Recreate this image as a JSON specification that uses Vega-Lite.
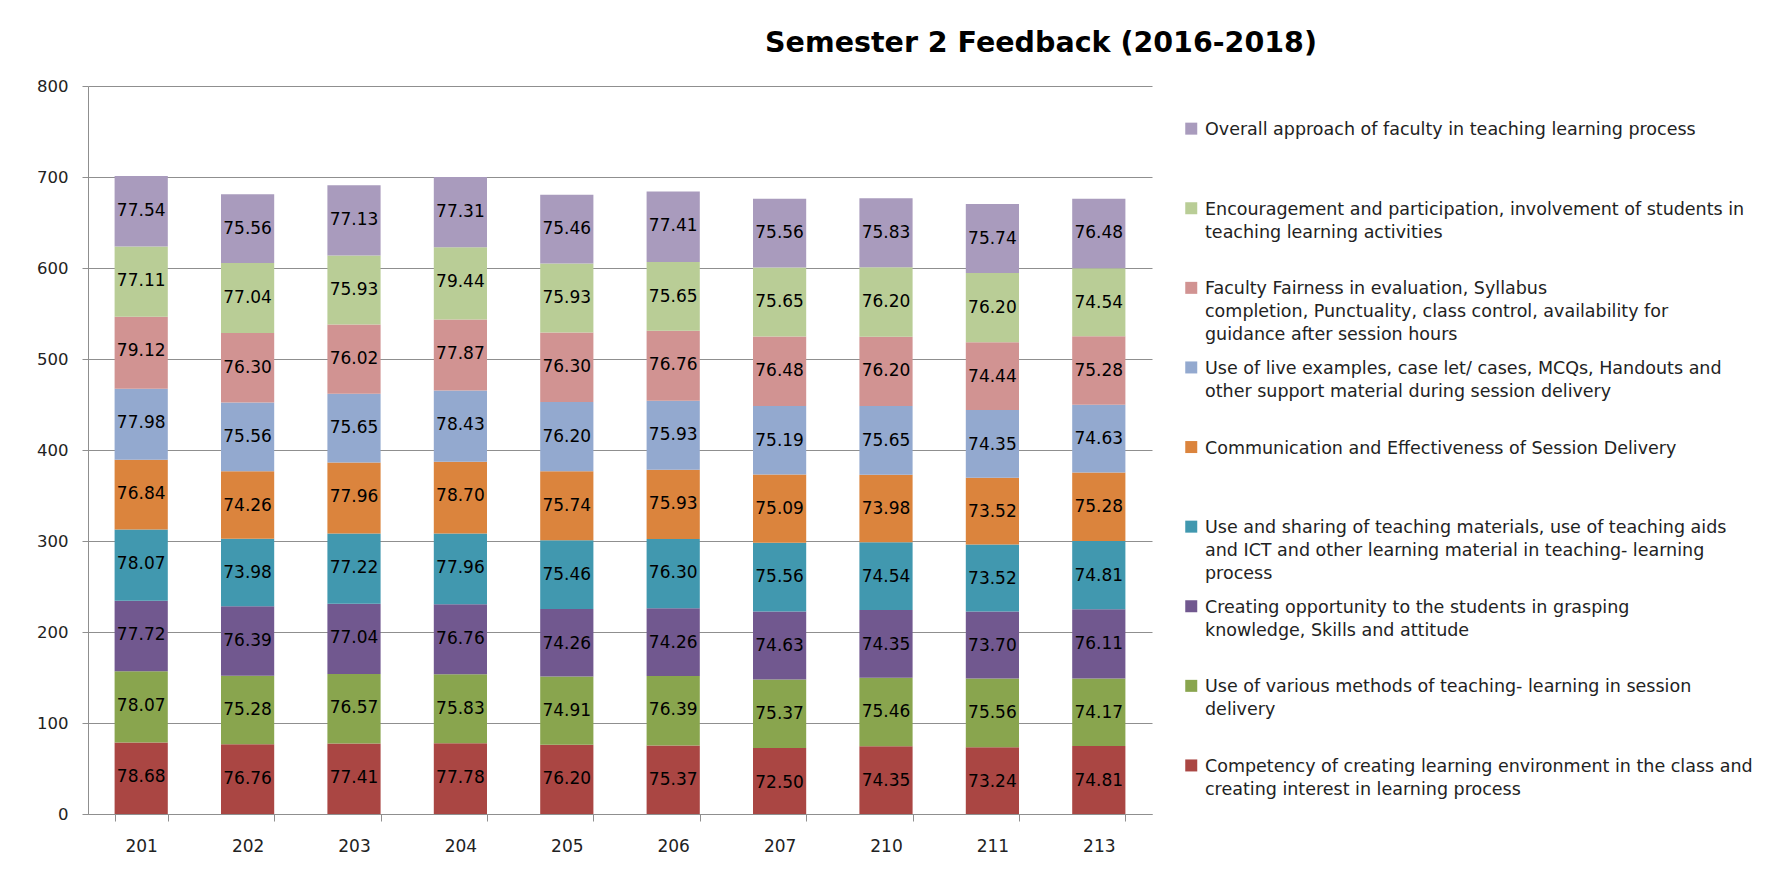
{
  "$schema": "https://vega.github.io/schema/vega-lite/v6.json",
  "width": 1064,
  "height": 728,
  "autosize": {"type": "none"},
  "padding": {"left": 88, "top": 86, "right": 619, "bottom": 58},
  "background": "white",
  "title": {
    "text": "Semester 2 Feedback (2016-2018)",
    "font": "DejaVu Sans",
    "fontSize": 28.5,
    "fontWeight": "bold",
    "color": "#000000",
    "anchor": "middle",
    "frame": "group",
    "dx": 421,
    "dy": 22,
    "offset": 20,
    "baseline": "alphabetic"
  },
  "datasets": {
    "series": [
      {"k": 1, "name": "Competency of creating learning environment in the class and|creating interest in learning process| "},
      {"k": 2, "name": "Use of various methods of teaching- learning in session|delivery| "},
      {"k": 3, "name": "Creating opportunity to the students in grasping|knowledge, Skills and attitude| "},
      {"k": 4, "name": "Use and sharing  of teaching materials, use of teaching aids|and ICT and other learning material in teaching- learning|process"},
      {"k": 5, "name": "Communication and Effectiveness of Session Delivery| | "},
      {"k": 6, "name": "Use of live examples, case let/ cases, MCQs, Handouts and|other support material during session delivery| "},
      {"k": 7, "name": "Faculty Fairness in evaluation, Syllabus|completion,  Punctuality, class control, availability for|guidance after session hours"},
      {"k": 8, "name": "Encouragement and participation, involvement of students in|teaching learning activities| "},
      {"k": 9, "name": "Overall approach of faculty in teaching learning process| | "}
    ],
    "scores": [
      {"g": "201", "k": 1, "v": 78.68}, {"g": "202", "k": 1, "v": 76.76}, {"g": "203", "k": 1, "v": 77.41}, {"g": "204", "k": 1, "v": 77.78}, {"g": "205", "k": 1, "v": 76.20},
      {"g": "206", "k": 1, "v": 75.37}, {"g": "207", "k": 1, "v": 72.50}, {"g": "210", "k": 1, "v": 74.35}, {"g": "211", "k": 1, "v": 73.24}, {"g": "213", "k": 1, "v": 74.81},
      {"g": "201", "k": 2, "v": 78.07}, {"g": "202", "k": 2, "v": 75.28}, {"g": "203", "k": 2, "v": 76.57}, {"g": "204", "k": 2, "v": 75.83}, {"g": "205", "k": 2, "v": 74.91},
      {"g": "206", "k": 2, "v": 76.39}, {"g": "207", "k": 2, "v": 75.37}, {"g": "210", "k": 2, "v": 75.46}, {"g": "211", "k": 2, "v": 75.56}, {"g": "213", "k": 2, "v": 74.17},
      {"g": "201", "k": 3, "v": 77.72}, {"g": "202", "k": 3, "v": 76.39}, {"g": "203", "k": 3, "v": 77.04}, {"g": "204", "k": 3, "v": 76.76}, {"g": "205", "k": 3, "v": 74.26},
      {"g": "206", "k": 3, "v": 74.26}, {"g": "207", "k": 3, "v": 74.63}, {"g": "210", "k": 3, "v": 74.35}, {"g": "211", "k": 3, "v": 73.70}, {"g": "213", "k": 3, "v": 76.11},
      {"g": "201", "k": 4, "v": 78.07}, {"g": "202", "k": 4, "v": 73.98}, {"g": "203", "k": 4, "v": 77.22}, {"g": "204", "k": 4, "v": 77.96}, {"g": "205", "k": 4, "v": 75.46},
      {"g": "206", "k": 4, "v": 76.30}, {"g": "207", "k": 4, "v": 75.56}, {"g": "210", "k": 4, "v": 74.54}, {"g": "211", "k": 4, "v": 73.52}, {"g": "213", "k": 4, "v": 74.81},
      {"g": "201", "k": 5, "v": 76.84}, {"g": "202", "k": 5, "v": 74.26}, {"g": "203", "k": 5, "v": 77.96}, {"g": "204", "k": 5, "v": 78.70}, {"g": "205", "k": 5, "v": 75.74},
      {"g": "206", "k": 5, "v": 75.93}, {"g": "207", "k": 5, "v": 75.09}, {"g": "210", "k": 5, "v": 73.98}, {"g": "211", "k": 5, "v": 73.52}, {"g": "213", "k": 5, "v": 75.28},
      {"g": "201", "k": 6, "v": 77.98}, {"g": "202", "k": 6, "v": 75.56}, {"g": "203", "k": 6, "v": 75.65}, {"g": "204", "k": 6, "v": 78.43}, {"g": "205", "k": 6, "v": 76.20},
      {"g": "206", "k": 6, "v": 75.93}, {"g": "207", "k": 6, "v": 75.19}, {"g": "210", "k": 6, "v": 75.65}, {"g": "211", "k": 6, "v": 74.35}, {"g": "213", "k": 6, "v": 74.63},
      {"g": "201", "k": 7, "v": 79.12}, {"g": "202", "k": 7, "v": 76.30}, {"g": "203", "k": 7, "v": 76.02}, {"g": "204", "k": 7, "v": 77.87}, {"g": "205", "k": 7, "v": 76.30},
      {"g": "206", "k": 7, "v": 76.76}, {"g": "207", "k": 7, "v": 76.48}, {"g": "210", "k": 7, "v": 76.20}, {"g": "211", "k": 7, "v": 74.44}, {"g": "213", "k": 7, "v": 75.28},
      {"g": "201", "k": 8, "v": 77.11}, {"g": "202", "k": 8, "v": 77.04}, {"g": "203", "k": 8, "v": 75.93}, {"g": "204", "k": 8, "v": 79.44}, {"g": "205", "k": 8, "v": 75.93},
      {"g": "206", "k": 8, "v": 75.65}, {"g": "207", "k": 8, "v": 75.65}, {"g": "210", "k": 8, "v": 76.20}, {"g": "211", "k": 8, "v": 76.20}, {"g": "213", "k": 8, "v": 74.54},
      {"g": "201", "k": 9, "v": 77.54}, {"g": "202", "k": 9, "v": 75.56}, {"g": "203", "k": 9, "v": 77.13}, {"g": "204", "k": 9, "v": 77.31}, {"g": "205", "k": 9, "v": 75.46},
      {"g": "206", "k": 9, "v": 77.41}, {"g": "207", "k": 9, "v": 75.56}, {"g": "210", "k": 9, "v": 75.83}, {"g": "211", "k": 9, "v": 75.74}, {"g": "213", "k": 9, "v": 76.48}
    ]
  },
  "data": {"name": "scores"},
  "transform": [
    {"lookup": "k", "from": {"data": {"name": "series"}, "key": "k", "fields": ["name"]}},
    {"stack": "v", "groupby": ["g"], "sort": [{"field": "k", "order": "ascending"}], "as": ["v0", "v1"]}
  ],
  "encoding": {
    "x": {
      "field": "g",
      "type": "ordinal",
      "scale": {"paddingInner": 0.5, "paddingOuter": 0.25},
      "axis": {
        "title": null,
        "labelAngle": 0,
        "labelFont": "DejaVu Sans",
        "labelFontSize": 17,
        "labelColor": "#222222",
        "labelPadding": 17,
        "labelBaseline": "top",
        "tickBand": "extent",
        "tickSize": 7,
        "tickColor": "#8f8f8f",
        "domainColor": "#8f8f8f"
      }
    }
  },
  "layer": [
    {
      "mark": {"type": "bar"},
      "encoding": {
        "y": {
          "field": "v0",
          "type": "quantitative",
          "scale": {"domain": [0, 800], "nice": false},
          "axis": {
            "title": null,
            "values": [0, 100, 200, 300, 400, 500, 600, 700, 800],
            "labelFont": "DejaVu Sans",
            "labelFontSize": 16.5,
            "labelColor": "#222222",
            "labelPadding": 14,
            "tickSize": 6,
            "tickColor": "#8f8f8f",
            "domainColor": "#8f8f8f",
            "grid": true,
            "gridColor": "#8f8f8f"
          }
        },
        "y2": {"field": "v1"},
        "color": {
          "field": "name",
          "type": "nominal",
          "scale": {
            "domain": [
              "Overall approach of faculty in teaching learning process| | ",
              "Encouragement and participation, involvement of students in|teaching learning activities| ",
              "Faculty Fairness in evaluation, Syllabus|completion,  Punctuality, class control, availability for|guidance after session hours",
              "Use of live examples, case let/ cases, MCQs, Handouts and|other support material during session delivery| ",
              "Communication and Effectiveness of Session Delivery| | ",
              "Use and sharing  of teaching materials, use of teaching aids|and ICT and other learning material in teaching- learning|process",
              "Creating opportunity to the students in grasping|knowledge, Skills and attitude| ",
              "Use of various methods of teaching- learning in session|delivery| ",
              "Competency of creating learning environment in the class and|creating interest in learning process| "
            ],
            "range": ["#A99BBD", "#B9CD96", "#D19392", "#93A9CF", "#DB843D", "#4198AF", "#71588F", "#89A54E", "#AA4643"]
          },
          "legend": {
            "title": null,
            "orient": "right",
            "offset": 3.5,
            "padding": 26.5,
            "labelExpr": "split(datum.label, '|')",
            "labelFont": "DejaVu Sans",
            "labelFontSize": 17.5,
            "labelColor": "#222222",
            "labelBaseline": "top",
            "labelLimit": 800,
            "labelOffset": 5,
            "symbolType": "M-1,0.233H1V2.233H-1Z",
            "symbolSize": 144,
            "symbolStrokeWidth": 0,
            "rowPadding": 6.6
          }
        }
      }
    },
    {
      "mark": {"type": "text", "dy": 34.6, "baseline": "middle", "font": "DejaVu Sans", "fontSize": 17, "color": "#000000"},
      "encoding": {
        "y": {"field": "v1", "type": "quantitative"},
        "text": {"field": "v", "type": "quantitative", "format": ".2f"}
      }
    }
  ],
  "config": {
    "view": {"stroke": null},
    "style": {"guide-label": {"lineHeight": 23}}
  }
}
